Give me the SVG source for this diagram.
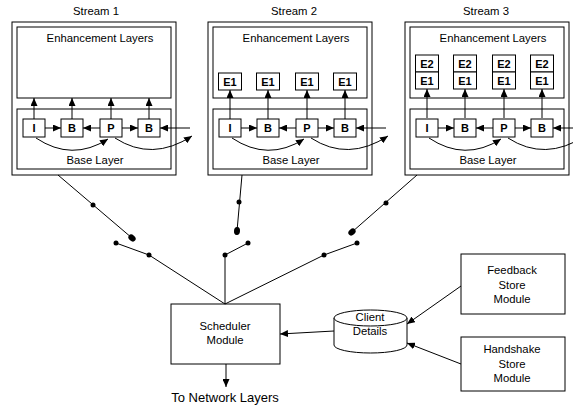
<svg xmlns="http://www.w3.org/2000/svg" width="573" height="410" viewBox="0 0 573 410">
<style>
.b{fill:#fff;stroke:#000;stroke-width:1}
.l{fill:none;stroke:#000;stroke-width:1}
.a{fill:none;stroke:#000;stroke-width:1;marker-end:url(#ah)}
text{font-family:"Liberation Sans",Arial,sans-serif;font-size:11.3px;fill:#000;text-anchor:middle}
.k{font-weight:bold;font-size:11px}
.t{font-size:13px}
.d{fill:#000}
</style>
<defs>
<marker id="ah" markerUnits="userSpaceOnUse" markerWidth="8" markerHeight="7" refX="8" refY="3.5" orient="auto"><path d="M0,0L8,3.5L0,7z" fill="#000"/></marker>
<g id="frame">
 <rect class="b" x="0" y="22" width="164" height="153"/>
 <rect class="b" x="5" y="27" width="154" height="71"/>
 <text x="88" y="42">Enhancement Layers</text>
</g>
<g id="base">
 <rect class="b" x="5" y="109" width="154" height="60"/>
 <rect class="b" x="11" y="119" width="22" height="18"/>
 <rect class="b" x="49" y="119" width="22" height="18"/>
 <rect class="b" x="88" y="119" width="22" height="18"/>
 <rect class="b" x="126" y="119" width="22" height="18"/>
 <text class="k" x="22" y="132">I</text>
 <text class="k" x="60" y="132">B</text>
 <text class="k" x="99" y="132">P</text>
 <text class="k" x="137" y="132">B</text>
 <path class="a" d="M33,128H49"/>
 <path class="a" d="M88,128H71"/>
 <path class="a" d="M110,128H126"/>
 <path class="a" d="M178,128H148"/>
 <path class="a" d="M24,138Q60,162 96,139"/>
 <path class="a" d="M103,138Q140,162 180,136"/>
 <text x="83" y="164">Base Layer</text>
</g>
<g id="up98">
 <path class="a" d="M22,119V98"/>
 <path class="a" d="M60,119V98"/>
 <path class="a" d="M99,119V98"/>
 <path class="a" d="M137,119V98"/>
</g>
<g id="up90">
 <path class="a" d="M22,119V90"/>
 <path class="a" d="M60,119V90"/>
 <path class="a" d="M99,119V90"/>
 <path class="a" d="M137,119V90"/>
</g>
</defs>

<g id="stream1" transform="translate(12,0)">
 <text x="84" y="15">Stream 1</text>
 <use href="#frame"/>
 <use href="#base"/>
 <use href="#up98"/>
</g>

<g id="stream2" transform="translate(208,0)">
 <text x="86" y="15">Stream 2</text>
 <use href="#frame"/>
 <use href="#base"/>
 <rect class="b" x="10.5" y="73" width="23" height="17"/>
 <rect class="b" x="48.5" y="73" width="23" height="17"/>
 <rect class="b" x="87.5" y="73" width="23" height="17"/>
 <rect class="b" x="125.5" y="73" width="23" height="17"/>
 <text class="k" x="22" y="86">E1</text>
 <text class="k" x="60" y="86">E1</text>
 <text class="k" x="99" y="86">E1</text>
 <text class="k" x="137" y="86">E1</text>
 <use href="#up90"/>
</g>

<g id="stream3" transform="translate(405,0)">
 <text x="81" y="15">Stream 3</text>
 <use href="#frame"/>
 <use href="#base"/>
 <rect class="b" x="10.5" y="55" width="23" height="17"/>
 <rect class="b" x="48.5" y="55" width="23" height="17"/>
 <rect class="b" x="87.5" y="55" width="23" height="17"/>
 <rect class="b" x="125.5" y="55" width="23" height="17"/>
 <rect class="b" x="10.5" y="72" width="23" height="17"/>
 <rect class="b" x="48.5" y="72" width="23" height="17"/>
 <rect class="b" x="87.5" y="72" width="23" height="17"/>
 <rect class="b" x="125.5" y="72" width="23" height="17"/>
 <text class="k" x="22" y="68">E2</text>
 <text class="k" x="60" y="68">E2</text>
 <text class="k" x="99" y="68">E2</text>
 <text class="k" x="137" y="68">E2</text>
 <text class="k" x="22" y="85">E1</text>
 <text class="k" x="60" y="85">E1</text>
 <text class="k" x="99" y="85">E1</text>
 <text class="k" x="137" y="85">E1</text>
 <use href="#up90" transform="translate(0,-1)"/>
</g>

<g id="scheduler">
 <rect class="b" x="171" y="304" width="109" height="60"/>
 <text x="225" y="330">Scheduler</text>
 <text x="225" y="344">Module</text>
</g>

<g id="client-details">
 <path class="b" d="M334,318V345A36.5,8 0 0 0 407,345V318"/>
 <ellipse class="b" cx="370.5" cy="318" rx="36.5" ry="8"/>
 <text x="370" y="321">Client</text>
 <text x="370" y="335">Details</text>
</g>

<g id="feedback">
 <rect class="b" x="461" y="254" width="104" height="60"/>
 <text x="512" y="274">Feedback</text>
 <text x="512" y="289">Store</text>
 <text x="512" y="303">Module</text>
</g>

<g id="handshake">
 <rect class="b" x="461" y="337" width="104" height="54"/>
 <text x="512" y="353">Handshake</text>
 <text x="512" y="368">Store</text>
 <text x="512" y="382">Module</text>
</g>

<g id="to-network">
 <text class="t" x="225" y="402">To Network Layers</text>
</g>

<g id="connectors">
 <path class="l" d="M58,175L132,238"/>
 <path class="l" d="M242,175L237,231"/>
 <path class="l" d="M417,175L352,232"/>
 <path class="l" d="M116,243L149,255L225,304"/>
 <path class="l" d="M248,243L225,255L225,304"/>
 <path class="l" d="M357,243L324,255L225,304"/>
 <circle class="d" cx="93" cy="205" r="2.5"/>
 <circle class="d" cx="116" cy="243" r="2.5"/>
 <circle class="d" cx="149" cy="255" r="2.5"/>
 <circle class="d" cx="239" cy="202" r="2.5"/>
 <circle class="d" cx="248" cy="243" r="2.5"/>
 <circle class="d" cx="225" cy="255" r="2.5"/>
 <circle class="d" cx="386" cy="203" r="2.5"/>
 <circle class="d" cx="357" cy="243" r="2.5"/>
 <circle class="d" cx="324" cy="255" r="2.5"/>
 <ellipse class="d" cx="132" cy="238" rx="4" ry="3" transform="rotate(40 132 238)"/>
 <ellipse class="d" cx="237" cy="231" rx="4" ry="3" transform="rotate(-85 237 231)"/>
 <ellipse class="d" cx="352" cy="232" rx="4" ry="3" transform="rotate(140 352 232)"/>
 <path class="a" d="M334,331L280,334"/>
 <path class="a" d="M461,286L407,324"/>
 <path class="a" d="M461,364L407,343"/>
 <path class="a" d="M226,364V387"/>
</g>
</svg>
